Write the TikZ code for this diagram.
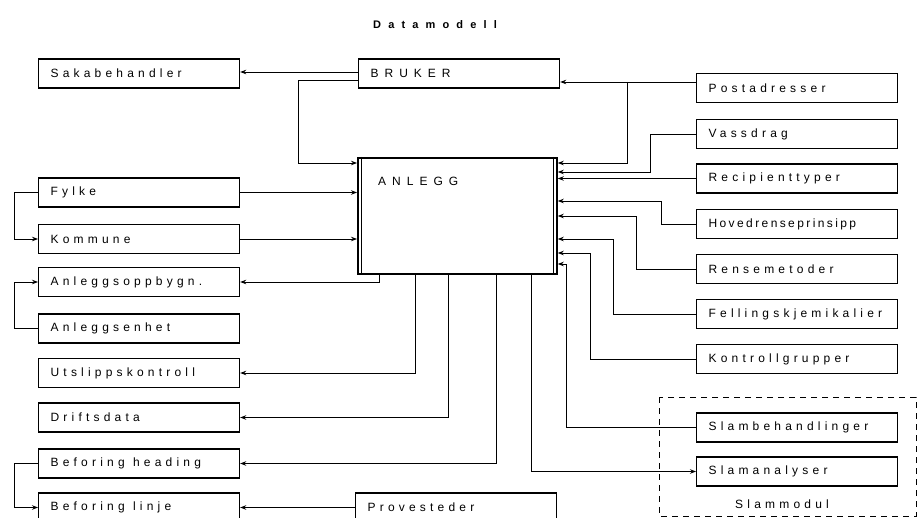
\documentclass[tikz,border=0pt]{standalone}
\usepackage{fontspec}
\setmainfont{Liberation Sans}
\newfontfamily\boxfont[LetterSpace=35]{Liberation Sans}
\newfontfamily\hovfont[LetterSpace=20]{Liberation Sans}
\newfontfamily\capsfont[LetterSpace=50]{Liberation Sans}
\newfontfamily\ttlfont[LetterSpace=65]{Liberation Sans Bold}
\newcommand{\wsp}{\hspace{0.7em}}
\usetikzlibrary{arrows.meta}
\begin{document}
\begin{tikzpicture}[x=1pt,y=-1pt,
  ent/.style={draw, line width=1.2pt, rectangle, anchor=west, minimum width=200pt,
    minimum height=29pt, text width=177pt, inner xsep=12pt, inner ysep=0pt, align=left,
    font=\boxfont\fontsize{12}{14}\selectfont},
  conn/.style={line width=0.9pt},
  arr/.style={conn, -{Stealth[length=6pt,width=4.5pt]}},
  lbl/.style={inner sep=0pt, anchor=west, font=\boxfont\fontsize{12}{14}\selectfont}]
\clip (0,0) rectangle (920,518);
\fill[white] (0,0) rectangle (920,518);

% title
\node[inner sep=0pt, font=\ttlfont\fontsize{11}{13}\selectfont] (title) at (435,25) {Datamodell};

% left column
\node[ent] (saka) at (38,73.5) {Sakabehandler};
\node[ent] (fylke) at (38,192.5) {Fylke};
\node[ent] (kommune) at (38,239) {Kommune};
\node[ent] (anlop) at (38,282) {Anleggsoppbygn.};
\node[ent] (anlenh) at (38,328.5) {Anleggsenhet};
\node[ent] (utslipp) at (38,373) {Utslippskontroll};
\node[ent] (drift) at (38,417.5) {Driftsdata};
\node[ent] (befhead) at (38,463.5) {Beforing\wsp heading};
\node[ent] (beflinje) at (38,507.5) {Beforing\wsp linje};

% middle
\node[ent, minimum width=199pt, font=\capsfont\fontsize{12}{14}\selectfont] (bruker) at (358,73.5) {BRUKER};
\node[ent] (prove) at (355,507.5) {Provesteder};
\node[draw, line width=1.8pt, rectangle, anchor=north west, minimum width=199pt,
  minimum height=116pt, inner sep=0pt] (anlegg) at (357,157) {};
\draw[line width=0.8pt] ([xshift=4pt]anlegg.north west) -- ([xshift=4pt]anlegg.south west);
\draw[line width=0.8pt] ([xshift=-4pt]anlegg.north east) -- ([xshift=-4pt]anlegg.south east);
\node[inner sep=0pt, anchor=west, font=\capsfont\fontsize{12}{14}\selectfont] (anleggtxt) at (378,181) {ANLEGG};

% right column
\node[ent] (post) at (696,88) {Postadresser};
\node[ent] (vass) at (696,134) {Vassdrag};
\node[ent] (recip) at (696,178.5) {Recipienttyper};
\node[ent, font=\hovfont\fontsize{12}{14}\selectfont] (hoved) at (696,224) {Hovedrenseprinsipp};
\node[ent] (rense) at (696,269) {Rensemetoder};
\node[ent] (felling) at (696,314) {Fellingskjemikalier};
\node[ent] (kontroll) at (696,359) {Kontrollgrupper};
\node[ent] (slambeh) at (696,427.5) {Slambehandlinger};
\node[ent] (slamana) at (696,471.5) {Slamanalyser};

% slam module
\draw[line width=1pt, dash pattern=on 6pt off 5pt] (659,397) rectangle (916,516);
\node[lbl, anchor=center] (slammodul) at (782,504) {Slammodul};

% connectors
\draw[arr] ([yshift=1.5pt]bruker.west) -- ([yshift=1.5pt]saka.east);
\draw[arr] ([yshift=-6.5pt]bruker.west) -| (298,163) -- (anlegg.west |- 298,163);
\draw[arr] (post.west |- 0,82) -- (bruker.east |- 0,82);
\draw[arr] (627,82) -- (627,163) -- (anlegg.east |- 0,163);
\draw[arr] (vass.west) -| (650,172) -- (anlegg.east |- 0,172);
\draw[arr] (recip.west) -- (anlegg.east |- recip.west);
\draw[arr] (hoved.west) -| (661,201) -- (anlegg.east |- 0,201);
\draw[arr] (rense.west) -| (636,216) -- (anlegg.east |- 0,216);
\draw[arr] (felling.west) -| (613,239) -- (anlegg.east |- 0,239);
\draw[arr] (kontroll.west) -| (590,253) -- (anlegg.east |- 0,253);
\draw[arr] (slambeh.west) -| (566,264) -- (anlegg.east |- 0,264);

\draw[arr] (anlegg.south -| 531,0) |- (slamana.west);
\draw[arr] (anlegg.south -| 496,0) |- (befhead.east);
\draw[arr] (anlegg.south -| 448,0) |- (drift.east);
\draw[arr] (anlegg.south -| 415,0) |- (utslipp.east);
\draw[arr] (anlegg.south -| 379,0) |- (anlop.east);

\draw[arr] (fylke.east) -- (anlegg.west |- fylke.east);
\draw[arr] (kommune.east) -- (anlegg.west |- kommune.east);
\draw[arr] (fylke.west) -- ++(-24,0) |- (kommune.west);
\draw[arr] (anlenh.west) -- ++(-24,0) |- (anlop.west);
\draw[arr] (befhead.west) -- ++(-24,0) |- (beflinje.west);
\draw[arr] (prove.west) -- (beflinje.east);
\end{tikzpicture}
\end{document}
